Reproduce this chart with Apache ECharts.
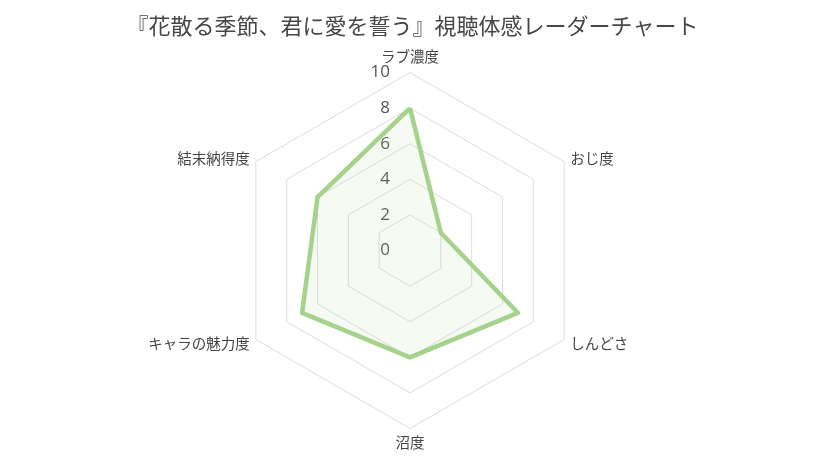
<!DOCTYPE html>
<html>
<head>
<meta charset="utf-8">
<script src="https://cdn.jsdelivr.net/npm/echarts@6/dist/echarts.min.js"></script>
<style>
html, body { margin: 0; padding: 0; background: #fff; }
#chart { width: 825px; height: 460px; }
</style>
</head>
<body>
<div id="chart"></div>
<script>
// 作品タイトルと指標（ECharts は反時計回りに並べるので、上から反時計回りの順）
var titleText = '『花散る季節、君に愛を誓う』視聴体感レーダーチャート';
var indicatorNames = ['ラブ濃度', '結末納得度', 'キャラの魅力度', '沼度', 'しんどさ', 'おじ度'];
var scoreValues = [8, 6, 7, 6, 7, 2];
var scoreMax = 10;

var myChart = echarts.init(document.getElementById('chart'));
var option = {
	backgroundColor: '#fff',
	title: {
		text: titleText,
		left: 'center',
		top: 10,
		textStyle: {
			fontFamily: 'Noto Sans CJK JP',
			fontSize: 22,
			fontWeight: 'normal',
			color: '#464646'
		}
	},
	radar: {
		center: [410, 250.5],
		radius: 178,
		shape: 'polygon',
		splitNumber: 5,
		indicator: indicatorNames.map(function(n, i) {
			var ind = { name: n, min: 0, max: scoreMax };
			if (i > 0) ind.axisLabel = { show: false }; // 目盛りは先頭の軸だけ
			return ind;
		}),
		axisName: {
			color: '#444',
			fontSize: 14.5,
			fontFamily: 'Noto Sans CJK JP'
		},
		nameGap: 7,
		axisLine: { show: false },
		splitArea: { show: false },
		splitLine: { lineStyle: { color: '#dddddd', width: 1 } },
		axisLabel: {
			show: true,
			color: '#555',
			fontSize: 17,
			margin: 20,
			fontFamily: 'Open Sans'
		}
	},
	series: [{
		type: 'radar',
		symbol: 'none',
		lineStyle: { color: '#a5d38c', width: 4.5 },
		areaStyle: { color: 'rgba(165,211,140,0.15)' },
		data: [{ value: scoreValues, name: titleText }]
	}]
};
myChart.setOption(option);
</script>
</body>
</html>
